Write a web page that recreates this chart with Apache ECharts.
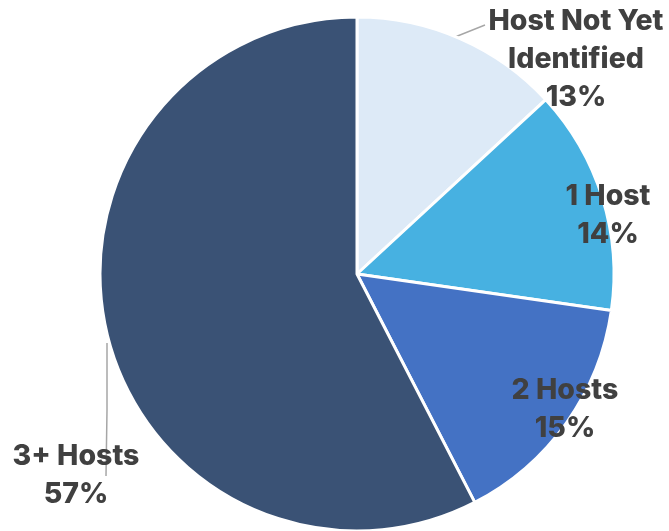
<!DOCTYPE html>
<html>
<head>
<meta charset="utf-8">
<script src="https://cdn.jsdelivr.net/npm/echarts@6/dist/echarts.min.js"></script>
<style>
  html, body { margin: 0; padding: 0; background: #ffffff; }
  #chart { width: 669px; height: 531px; }
</style>
</head>
<body>
<div id="chart"></div>
<script>
// Host counts, share of total (%)
const categories = ['Host Not Yet\nIdentified', '1 Host', '2 Hosts', '3+ Hosts'];
const shares = [13, 14, 15, 57];
const sliceColors = ['#DDEAF7', '#47B1E1', '#4472C4', '#3A5275'];

// Label anchor points (centre of each text block) and leader lines
const labelAnchors = [
  { x: 576, y: 59 },
  { x: 608, y: 215 },
  { x: 565, y: 409 },
  { x: 76, y: 475 }
];
const leaderLines = [
  [[455, 37], [470, 31], [485, 25]],
  null,
  null,
  [[107, 343], [107, 410], [106, 476]]
];

const chart = echarts.init(document.getElementById('chart'), null, { renderer: 'canvas' });

chart.setOption({
  backgroundColor: '#ffffff',
  animation: false,
  series: [{
    type: 'pie',
    center: [357, 274],
    radius: [0, 257],
    startAngle: 90,
    clockwise: true,
    avoidLabelOverlap: false,
    itemStyle: { borderColor: '#ffffff', borderWidth: 3 },
    label: {
      show: true,
      position: 'outside',
      formatter: p => p.name + '\n' + p.value + '%',
      fontFamily: 'Inter',
      fontWeight: 800,
      fontSize: 28.5,
      lineHeight: 38,
      color: '#404040',
      align: 'center'
    },
    labelLine: {
      show: true,
      lineStyle: { color: '#A6A6A6', width: 1.5 }
    },
    labelLayout: function (params) {
      const i = params.dataIndex;
      const a = labelAnchors[i];
      const out = { x: a.x, y: a.y, align: 'center', verticalAlign: 'middle' };
      if (leaderLines[i]) out.labelLinePoints = leaderLines[i];
      return out;
    },
    data: categories.map((name, i) => ({
      name: name,
      value: shares[i],
      itemStyle: { color: sliceColors[i] },
      labelLine: { show: !!leaderLines[i] }
    }))
  }]
});
</script>
</body>
</html>
